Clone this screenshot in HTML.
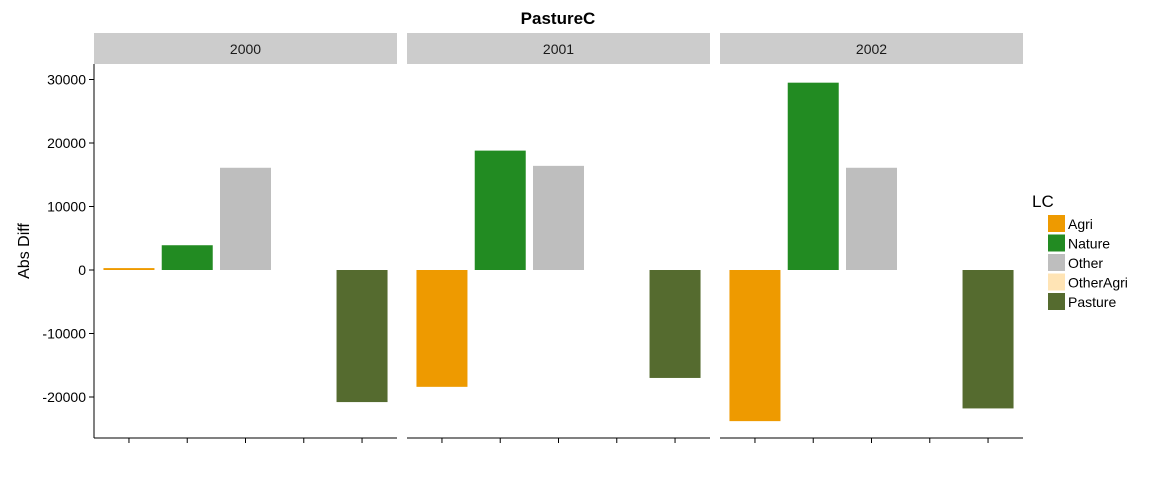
<!DOCTYPE html>
<html><head><meta charset="utf-8"><style>
body{margin:0;background:#fff;font-family:"Liberation Sans",Arial,sans-serif}
</style></head><body>
<svg id="chart" width="1152" height="480" font-family="Liberation Sans, Arial, sans-serif"></svg>
<script>
const categories=["Agri","Nature","Other","OtherAgri","Pasture"];
const years=["2000","2001","2002"];
const values2000=[300,3900,16100,0,-20800];
const values2001=[-18400,18800,16400,0,-17000];
const values2002=[-23800,29500,16100,0,-21800];
const yTicks=[-20000,-10000,0,10000,20000,30000];
const colors=["#EE9A00","#228B22","#BEBEBE","#FFE4B5","#556B2F"];
const series=[values2000,values2001,values2002];
const NS="http://www.w3.org/2000/svg";
const svg=document.getElementById("chart");
function el(t,a,p){const e=document.createElementNS(NS,t);for(const k in a)e.setAttribute(k,a[k]);(p||svg).appendChild(e);return e;}
const y0=270,pxPer=63.5/10000;
function yScale(v){return y0-v*pxPer;}
const panelX=[94,407,720],panelW=303,plotTop=64,plotBottom=438;
function xScale(p,i){return panelX[p]+panelW*(i+0.6)/5.2;}
let t=el("text",{x:558,y:24,"text-anchor":"middle","font-size":17,"font-weight":"bold"});t.textContent="PastureC";


let yAx=el("line",{x1:94,y1:plotTop,x2:94,y2:plotBottom,stroke:"#000"});


yTicks.forEach(v=>{
 const y=yScale(v);
 el("line",{x1:89,y1:y,x2:94,y2:y,stroke:"#000"});
 const l=el("text",{x:86,y:y+5,"text-anchor":"end","font-size":14,fill:"#000"});l.textContent=v;
 
 
});
let yt=el("text",{x:29,y:251,"text-anchor":"middle","font-size":16,transform:"rotate(-90 29 251)"});yt.textContent="Abs Diff";


years.forEach((yr,p)=>{
 const s=el("rect",{x:panelX[p],y:33,width:panelW,height:31,fill:"#CCCCCC"});
 
 
 const st=el("text",{x:panelX[p]+panelW/2,y:54,"text-anchor":"middle","font-size":14,fill:"#1a1a1a"});st.textContent=yr;
 
 
 const bl=el("line",{x1:panelX[p],y1:plotBottom,x2:panelX[p]+panelW,y2:plotBottom,stroke:"#000"});
 
 
 categories.forEach((c,i)=>{
  const cx=xScale(p,i);
  el("line",{x1:cx,y1:plotBottom,x2:cx,y2:plotBottom+5,stroke:"#000"});
  const v=series[p][i];
  if(v===0)return;
  const yv=yScale(v);
  const b=el("rect",{x:cx-25.5,y:Math.min(yv,y0),width:51,height:Math.max(1,Math.abs(yv-y0)),fill:colors[i]});
  
  
 });
});
let lt=el("text",{x:1032,y:207,"font-size":17});lt.textContent="LC";


categories.forEach((c,i)=>{
 const y=215+i*19.5;
 const g=el("g",{});
 
 
 el("rect",{x:1048,y:y,width:17,height:17,fill:colors[i]},g);
 const tx=el("text",{x:1068,y:y+14,"font-size":14},g);tx.textContent=c;
});
</script>
</body></html>
